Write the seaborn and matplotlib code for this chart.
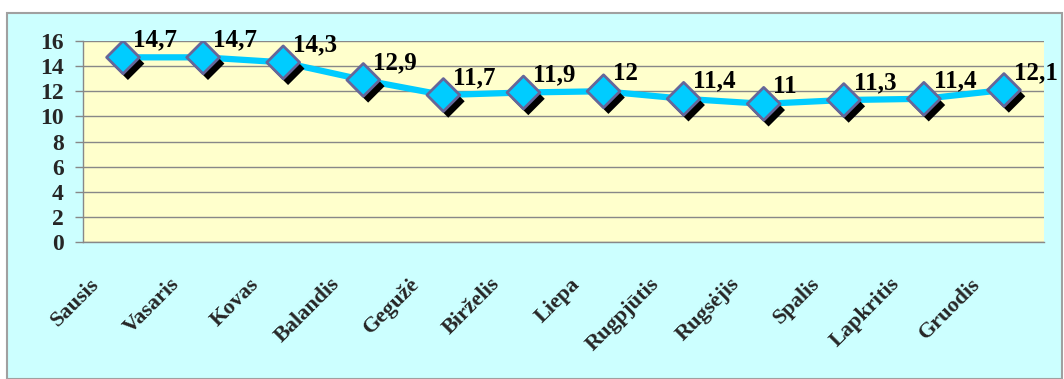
import matplotlib
matplotlib.use("Agg")
import matplotlib.pyplot as plt
import matplotlib.patheffects as pe
import matplotlib.transforms as mtransforms
from matplotlib.patches import Rectangle
import pandas as pd
import seaborn as sns

# duomenys
months = ["Sausis", "Vasaris", "Kovas", "Balandis", "Gegužė", "Birželis",
          "Liepa", "Rugpjūtis", "Rugsėjis", "Spalis", "Lapkritis", "Gruodis"]
values = [14.7, 14.7, 14.3, 12.9, 11.7, 11.9, 12, 11.4, 11, 11.3, 11.4, 12.1]
value_labels = ["14,7", "14,7", "14,3", "12,9", "11,7", "11,9", "12",
                "11,4", "11", "11,3", "11,4", "12,1"]
y_ticks = [0, 2, 4, 6, 8, 10, 12, 14, 16]

df = pd.DataFrame({"pos": range(len(months)), "month": months, "value": values})

sns.set_style("white")
plt.rcParams["font.family"] = ["Liberation Serif", "DejaVu Serif"]
plt.rcParams["font.weight"] = "bold"

fig = plt.figure(figsize=(10.64, 3.79), dpi=100)
fig.patch.set_facecolor("white")
# šviesiai žalsvas fonas su rėmeliu
fig.patches.append(Rectangle((7 / 1064, 0), 1055 / 1064, 1 - 13 / 379,
                             transform=fig.transFigure, facecolor="#CCFFFF",
                             edgecolor="#A0A0A0", linewidth=1.5, zorder=-10))

ax = fig.add_axes([83 / 1064, 1 - 242 / 379, 961 / 1064, 201 / 379])
ax.set_facecolor("#FFFFCC")

sns.lineplot(data=df, x="pos", y="value", ax=ax, color="#00CCFF",
             linewidth=4.5, zorder=3)
sns.scatterplot(data=df, x="pos", y="value", ax=ax, marker="D", s=280,
                color="#00CCFF", edgecolor="#666699", linewidth=2, zorder=4)
ax.collections[-1].set_path_effects([
    pe.SimplePatchShadow(offset=(3.5, -4.5), shadow_rgbFace="black", alpha=1.0),
    pe.Normal()])

for i, (v, lab) in enumerate(zip(values, value_labels)):
    ax.annotate(lab, (i, v), xytext=(7, 8), textcoords="offset points",
                ha="left", va="baseline", fontsize=18, fontweight="bold",
                color="black", zorder=5)

ax.set_xlim(-0.5, len(months) - 0.5)
ax.set_ylim(0, 16)
ax.set_yticks(y_ticks)
ax.set_yticklabels([str(t) for t in y_ticks], fontsize=17, fontweight="bold")
ax.yaxis.grid(True, color="#888888", linewidth=1)
ax.set_axisbelow(True)

# mėnesių pavadinimai pasukti 45 laipsniais
ax.set_xticks(range(len(months)))
ax.set_xticklabels([])
label_tr = ax.get_xaxis_transform() + mtransforms.ScaledTranslation(
    -0.34, -0.32, fig.dpi_scale_trans)
for i, m in enumerate(months):
    ax.text(i, 0, m, transform=label_tr, rotation=45, ha="right", va="top",
            rotation_mode="anchor", fontsize=16, fontweight="bold",
            clip_on=False)
ax.set_xticks([i - 0.5 for i in range(len(months) + 1)], minor=True)
ax.tick_params(axis="x", which="major", length=0)
ax.tick_params(axis="x", which="minor", length=6, color="#888888", width=1)
ax.tick_params(axis="y", length=6, color="#888888", width=1, pad=8, left=True)

for s in ["top", "right"]:
    ax.spines[s].set_visible(False)
for s in ["left", "bottom"]:
    ax.spines[s].set_color("#888888")
    ax.spines[s].set_linewidth(1)

ax.set_xlabel("")
ax.set_ylabel("")

fig.savefig("out.png", dpi=100)
plt.close(fig)
